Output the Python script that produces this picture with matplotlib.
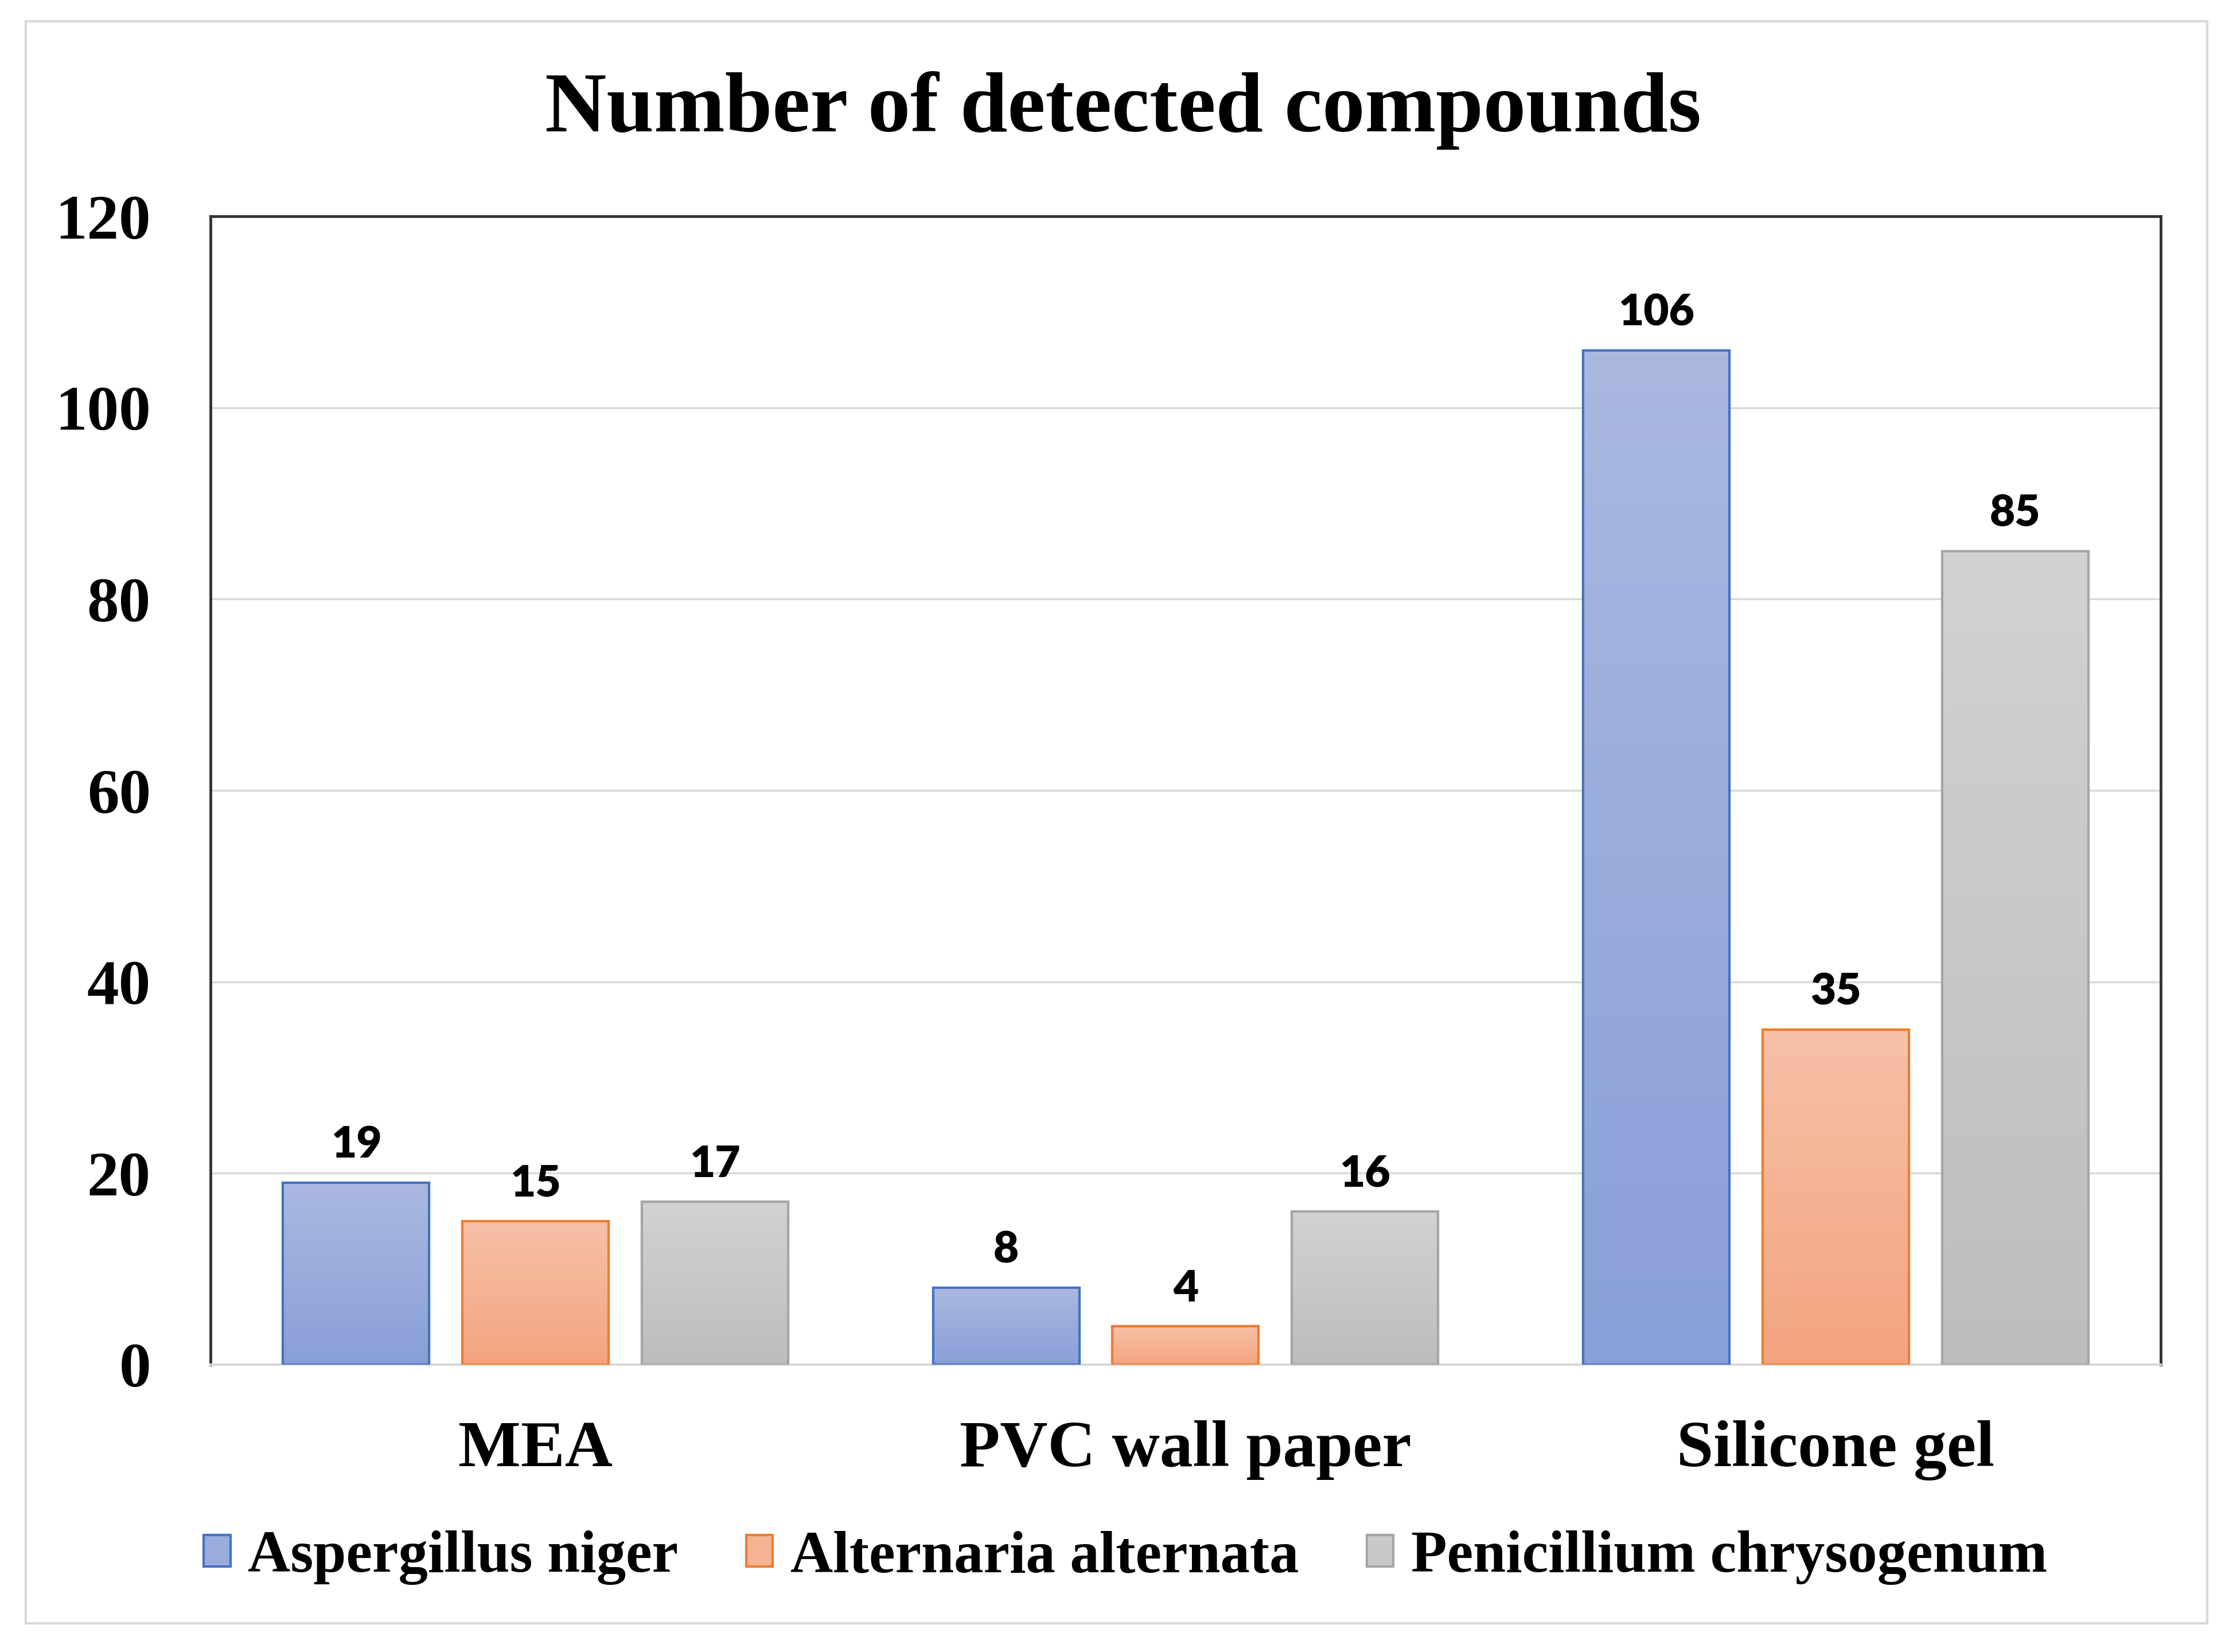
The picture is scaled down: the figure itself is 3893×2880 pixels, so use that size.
import matplotlib
matplotlib.use('Agg')
import matplotlib.pyplot as plt
import numpy as np
from matplotlib.colors import LinearSegmentedColormap
from matplotlib.patches import Rectangle

categories = ['MEA', 'PVC wall paper', 'Silicone gel']
species = ['Aspergillus niger', 'Alternaria alternata', 'Penicillium chrysogenum']
aspergillus = [19, 8, 106]
alternaria = [15, 4, 35]
penicillium = [17, 16, 85]
yticks = [0, 20, 40, 60, 80, 100, 120]

series = [aspergillus, alternaria, penicillium]
# (top colour, bottom colour, edge colour)
styles = [('#abb9e1', '#889fd7', '#4472c4'),
          ('#f6c1a8', '#f4a47f', '#ed7d31'),
          ('#d2d2d2', '#bdbdbd', '#a5a5a5')]

fig = plt.figure(figsize=(38.93, 28.80), dpi=100)
ax = fig.add_axes([0.0943, 0.174, 0.8733, 0.695])

x = np.arange(len(categories))
width = 0.225
step = 0.276

for i, (vals, name, (top, bot, edge)) in enumerate(zip(series, species, styles)):
    pos = x + (i - 1) * step
    cmap = LinearSegmentedColormap.from_list(name, [bot, top])
    mid = cmap(0.5)
    bars = ax.bar(pos, vals, width, color=mid, edgecolor=edge, linewidth=3,
                  label=name, zorder=3)
    for b in bars:
        grad = np.linspace(1, 0, 256).reshape(-1, 1)
        im = ax.imshow(grad, cmap=cmap, aspect='auto', zorder=3.1,
                       extent=[b.get_x(), b.get_x() + b.get_width(), 0, b.get_height()],
                       vmin=0, vmax=1)
        im.set_clip_path(b)
    ax.bar(pos, vals, width, fill=False, edgecolor=edge, linewidth=3, zorder=3.2)
    for p, v in zip(pos, vals):
        ax.annotate(str(v), (p, v), xytext=(0, 22), textcoords='offset points',
                    ha='center', va='bottom', fontsize=55, fontweight='heavy',
                    family='Lato', zorder=5)

ax.set_xlim(-0.5, 2.5)
ax.set_ylim(0, 120)
ax.set_yticks(yticks)
ax.set_yticklabels([str(t) for t in yticks], fontsize=80, fontweight='bold',
                   family='Liberation Serif')
ax.set_xticks(x)
ax.set_xticklabels(categories, fontsize=83, fontweight='bold', family='Liberation Serif')
ax.tick_params(axis='both', length=0)
ax.tick_params(axis='y', pad=75)
ax.tick_params(axis='x', pad=70)
ax.yaxis.grid(True, color='#d9d9d9', linewidth=2.5, zorder=0)
ax.set_axisbelow(True)
for s in ['left', 'top', 'right']:
    ax.spines[s].set_color('#333333')
    ax.spines[s].set_linewidth(3.5)
ax.spines['bottom'].set_color('#d9d9d9')
ax.spines['bottom'].set_linewidth(3)

fig.text(0.503, 0.933, 'Number of detected compounds', ha='center', va='center',
         fontsize=107, fontweight='bold', family='Liberation Serif')

handles, labels = ax.get_legend_handles_labels()
fig.legend(handles, labels, loc='center', bbox_to_anchor=(0.504, 0.057), ncol=3,
           frameon=False, prop={'family': 'Liberation Serif', 'weight': 'bold', 'size': 74},
           handlelength=0.45, handleheight=0.45, handletextpad=0.3, columnspacing=1.15)

fig.patches.append(Rectangle((45 / 3893, 50 / 2880), 3803 / 3893, 2793 / 2880,
                             transform=fig.transFigure, fill=False,
                             edgecolor='#d9d9d9', linewidth=3))

plt.savefig('out.png', dpi=100)
